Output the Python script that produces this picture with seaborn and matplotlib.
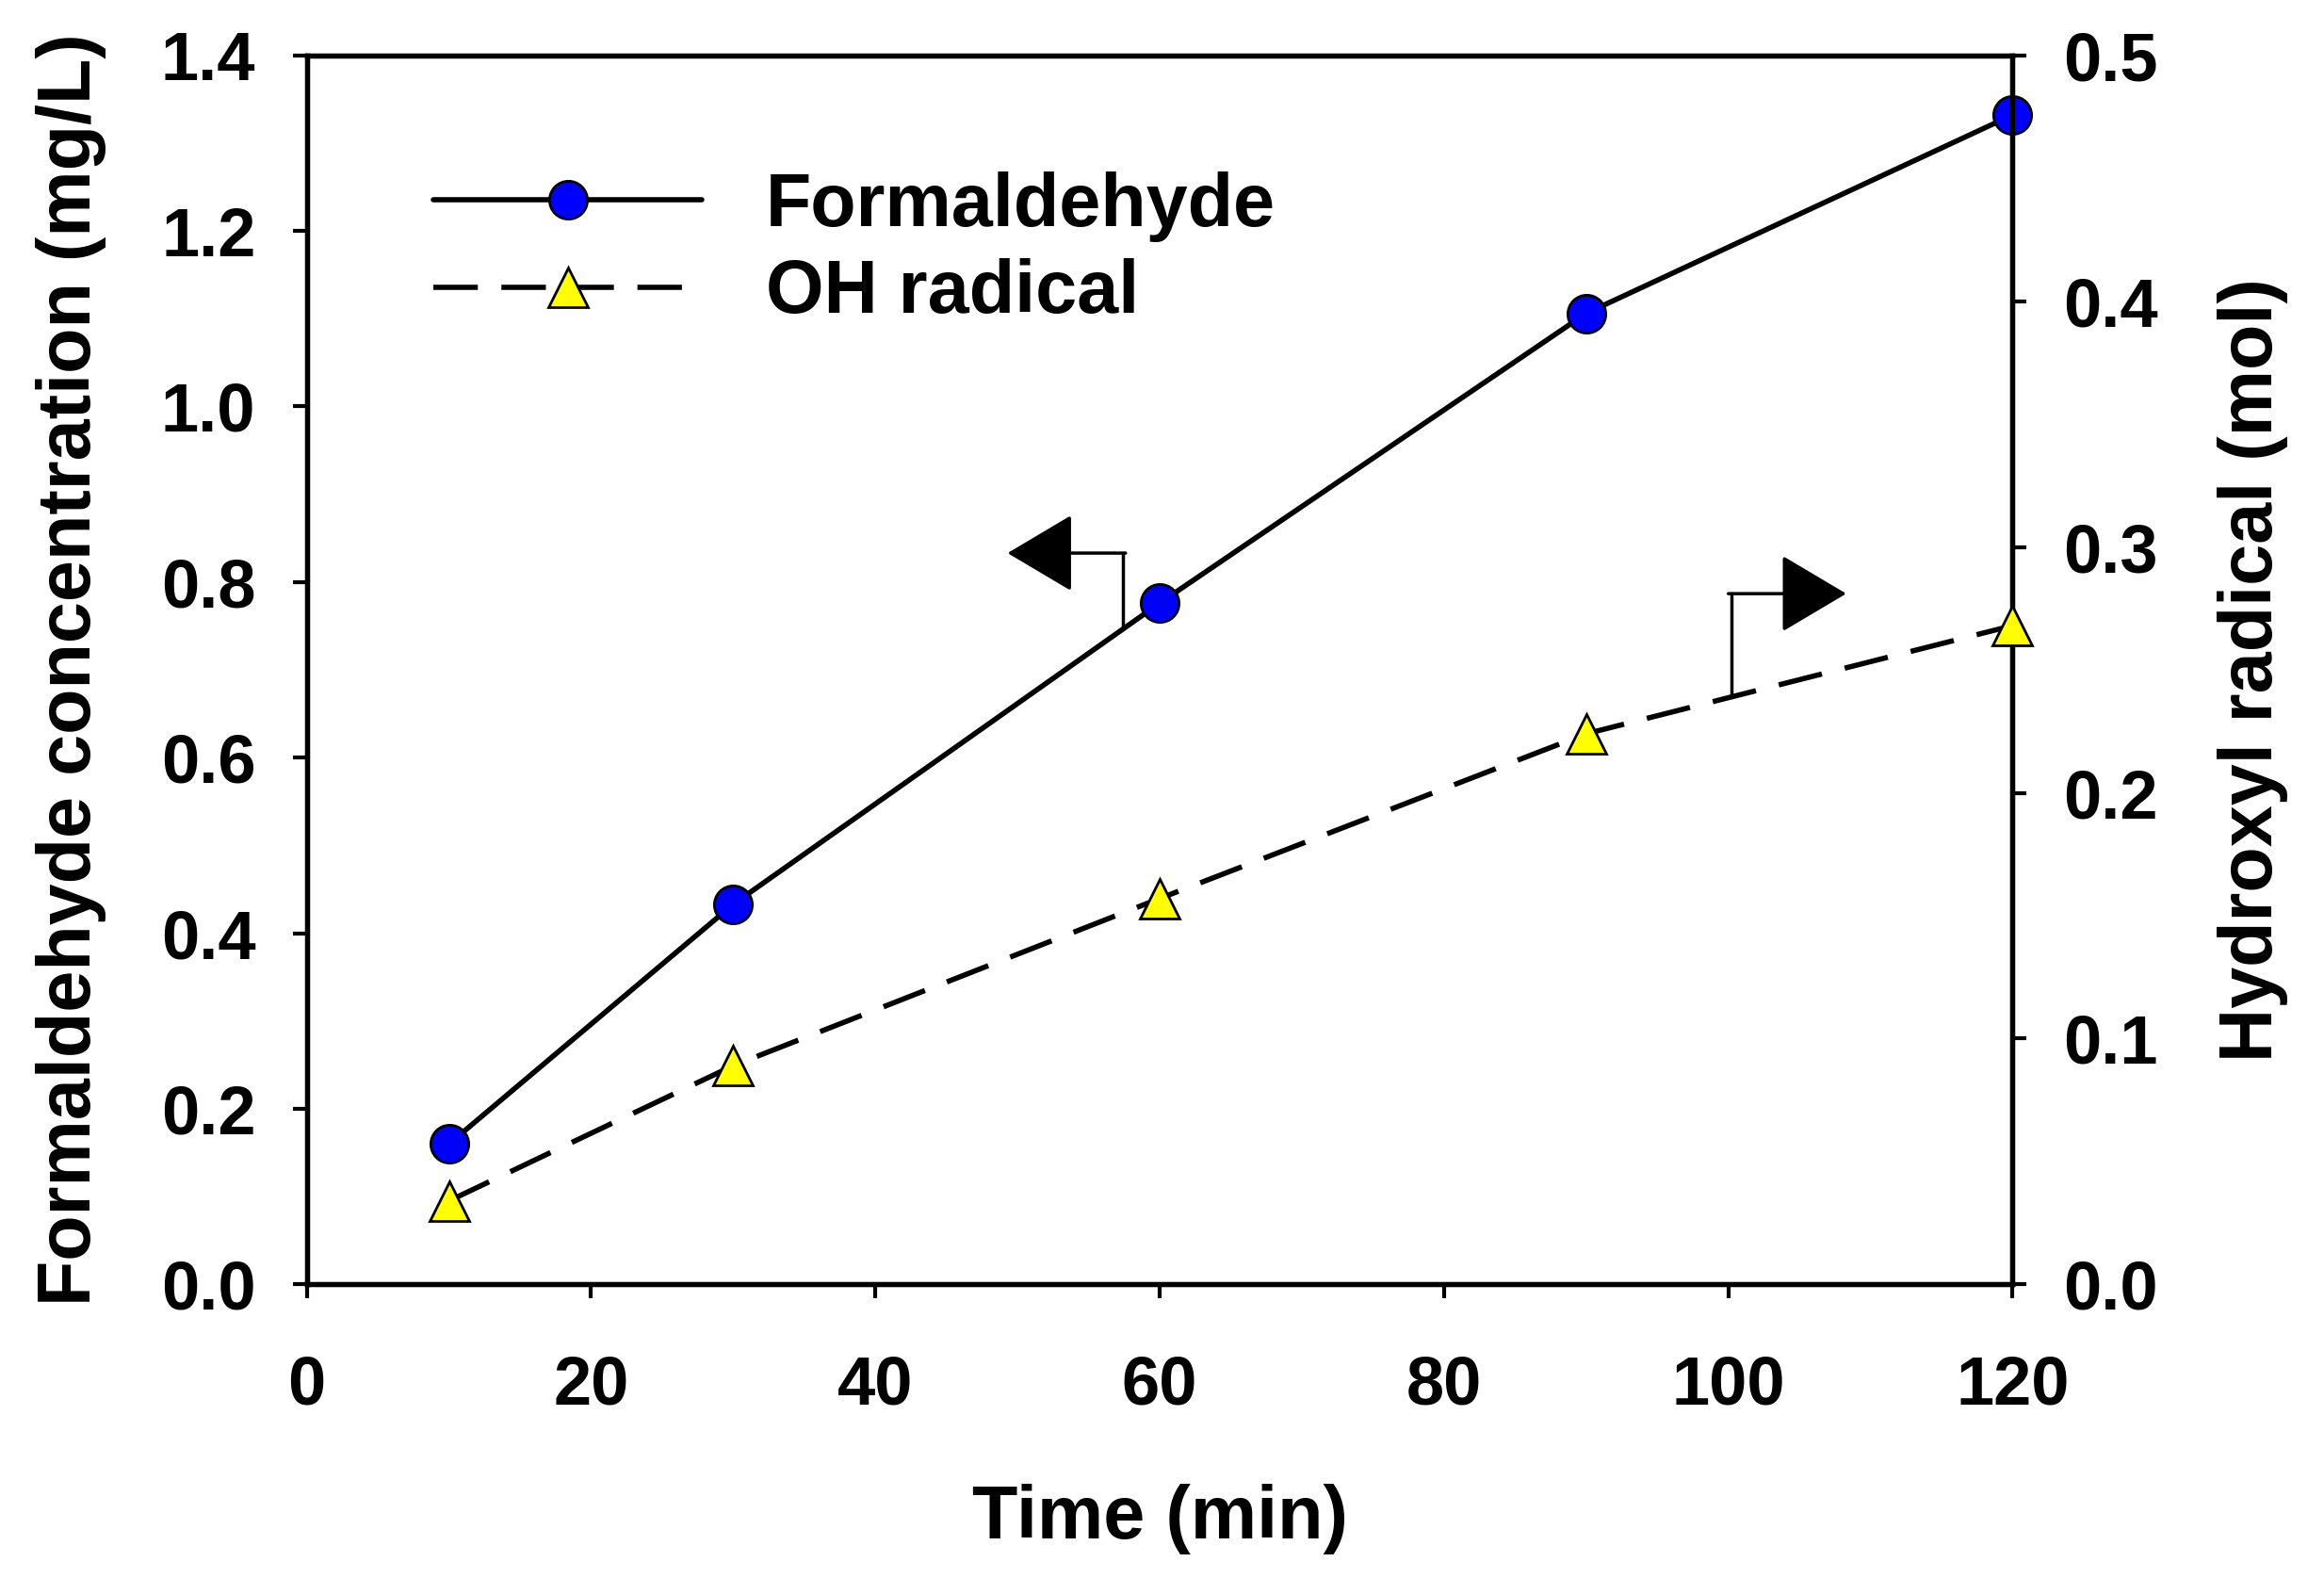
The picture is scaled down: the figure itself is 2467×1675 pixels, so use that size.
import numpy as np
import pandas as pd
import seaborn as sns
import matplotlib.pyplot as plt

# data
time_min = [10, 30, 60, 90, 120]
formaldehyde = [0.160, 0.433, 0.776, 1.106, 1.332]
oh_radical = [0.034, 0.089, 0.157, 0.224, 0.268]

left_ticks = [0.0, 0.2, 0.4, 0.6, 0.8, 1.0, 1.2, 1.4]
right_ticks = [0.0, 0.1, 0.2, 0.3, 0.4, 0.5]
x_ticks = [0, 20, 40, 60, 80, 100, 120]

df = pd.DataFrame({"time": time_min, "formaldehyde": formaldehyde, "oh": oh_radical})

sns.set_style("ticks")
plt.rcParams["font.family"] = ["Liberation Sans", "DejaVu Sans"]
plt.rcParams["font.weight"] = "bold"
plt.rcParams["text.color"] = "black"
plt.rcParams["axes.labelcolor"] = "black"
plt.rcParams["xtick.color"] = "black"
plt.rcParams["ytick.color"] = "black"

fig = plt.figure(figsize=(24.67, 16.75), dpi=100)
ax = fig.add_axes([0.132, 0.186, 0.734, 0.779])
ax2 = ax.twinx()

# formaldehyde on left axis
sns.lineplot(data=df, x="time", y="formaldehyde", ax=ax, color="black", lw=4,
             marker="o", markersize=29, markerfacecolor="#0000ff",
             markeredgecolor="black", markeredgewidth=2, label="Formaldehyde",
             legend=False, zorder=5, clip_on=False)

# OH radical on right axis
sns.lineplot(data=df, x="time", y="oh", ax=ax2, color="black", lw=4,
             marker="^", markersize=30, markerfacecolor="#ffff00",
             markeredgecolor="black", markeredgewidth=2, label="OH radical",
             legend=False, zorder=5, clip_on=False)
ax2.lines[0].set_dashes((8.5, 4.5))

ax.set_xlim(0, 120)
ax.set_ylim(0, 1.4)
ax2.set_ylim(0, 0.5)
ax.set_xticks(x_ticks)
ax.set_yticks(left_ticks)
ax2.set_yticks(right_ticks)
ax.set_yticklabels([f"{v:.1f}" for v in left_ticks])
ax2.set_yticklabels([f"{v:.1f}" for v in right_ticks])
ax.set_xticklabels([str(v) for v in x_ticks])

ax.set_xlabel("Time (min)", fontsize=57, fontweight="bold", labelpad=50)
ax.set_ylabel("Formaldehyde concentration (mg/L)", fontsize=57, fontweight="bold", labelpad=42)
ax2.set_ylabel("Hydroxyl radical (mol)", fontsize=57, fontweight="bold", labelpad=45)

for a in (ax, ax2):
    for s in a.spines.values():
        s.set_linewidth(3.8)
        s.set_color("black")
ax.tick_params(axis="both", labelsize=52, width=3, length=11, direction="out", pad=28)
ax.tick_params(axis="x", pad=42)
ax2.tick_params(axis="y", labelsize=52, width=3, length=11, direction="out", pad=28)

# direction arrows
ax.plot([57.4, 57.4], [0.746, 0.833], color="black", lw=2.5)
ax.annotate("", xy=(49.3, 0.833), xytext=(57.6, 0.833),
            arrowprops=dict(arrowstyle="-|>,head_length=1.6,head_width=0.95",
                            color="black", lw=2.5, mutation_scale=28, shrinkA=0, shrinkB=0))
ax2.plot([100.2, 100.2], [0.239, 0.281], color="black", lw=2.5)
ax2.annotate("", xy=(108.3, 0.281), xytext=(100.0, 0.281),
             arrowprops=dict(arrowstyle="-|>,head_length=1.6,head_width=0.95",
                             color="black", lw=2.5, mutation_scale=28, shrinkA=0, shrinkB=0))

handles = ax.get_lines()[:1] + ax2.get_lines()[:1]
leg = ax.legend(handles, ["Formaldehyde", "OH radical"], loc="upper left",
                bbox_to_anchor=(0.035, 0.96), frameon=False, fontsize=57,
                handlelength=3.6, handletextpad=0.85, labelspacing=0.22)
for t in leg.get_texts():
    t.set_fontweight("bold")

fig.savefig("out.png", dpi=100)
